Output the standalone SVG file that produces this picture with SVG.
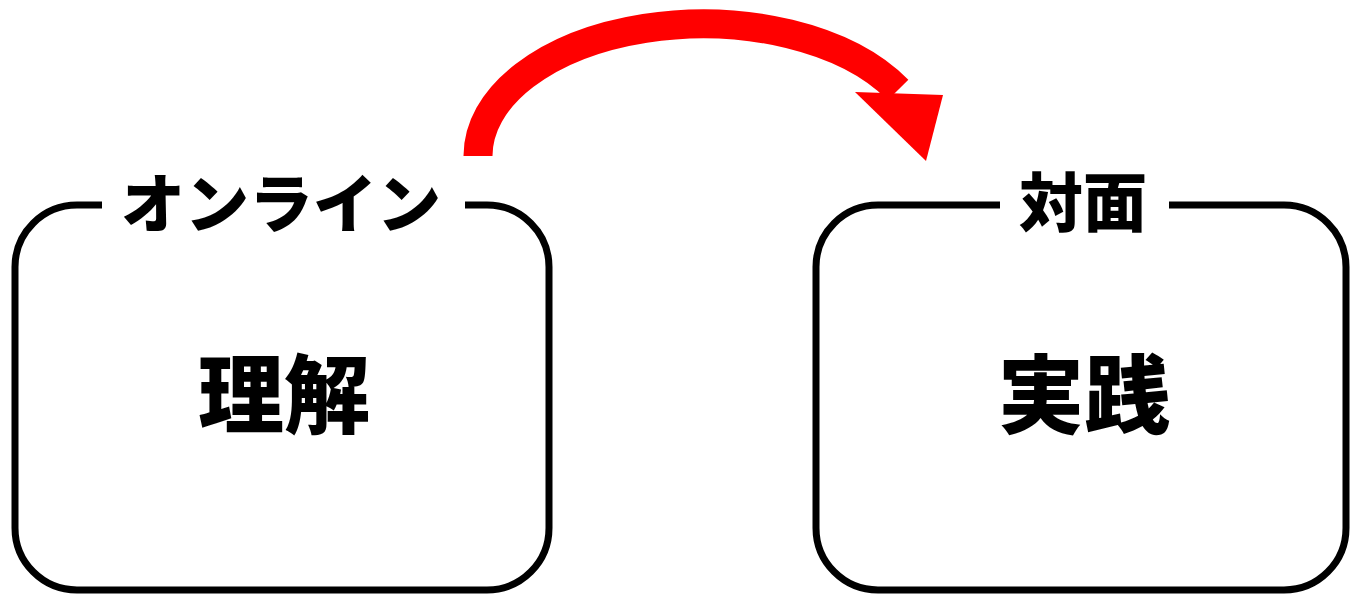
<svg xmlns="http://www.w3.org/2000/svg" width="1351" height="595" viewBox="0 0 1351 595">
<style>
.box{fill:none;stroke:#000;stroke-width:7}
.t{font-family:"Noto Sans CJK JP","Noto Sans CJK SC",sans-serif;font-weight:900;fill:#000;text-anchor:middle;dominant-baseline:central}
.lab{font-size:64px}
.main{font-size:86px}
</style>
<rect width="1351" height="595" fill="#fff"/>
<g id="online">
<path class="box" d="M102,205 H77 A62,62 0 0 0 15,267 V528 A62,62 0 0 0 77,590 H487 A62,62 0 0 0 549,528 V267 A62,62 0 0 0 487,205 H465"/>
<text class="t lab" x="281" y="199">オンライン</text>
<text class="t main" x="284" y="389">理解</text>
</g>
<g id="taimen">
<path class="box" d="M1000,205 H878 A62,62 0 0 0 816,267 V528 A62,62 0 0 0 878,590 H1284 A62,62 0 0 0 1346,528 V267 A62,62 0 0 0 1284,205 H1169"/>
<text class="t lab" x="1083" y="198">対面</text>
<text class="t main" x="1084" y="389">実践</text>
</g>
<g id="connectors">
<path d="M478,156 A225,132 0 0 1 898,90" fill="none" stroke="#f00" stroke-width="29"/>
<polygon points="855,92 943,95 926,161" fill="#f00"/>
</g>
</svg>
